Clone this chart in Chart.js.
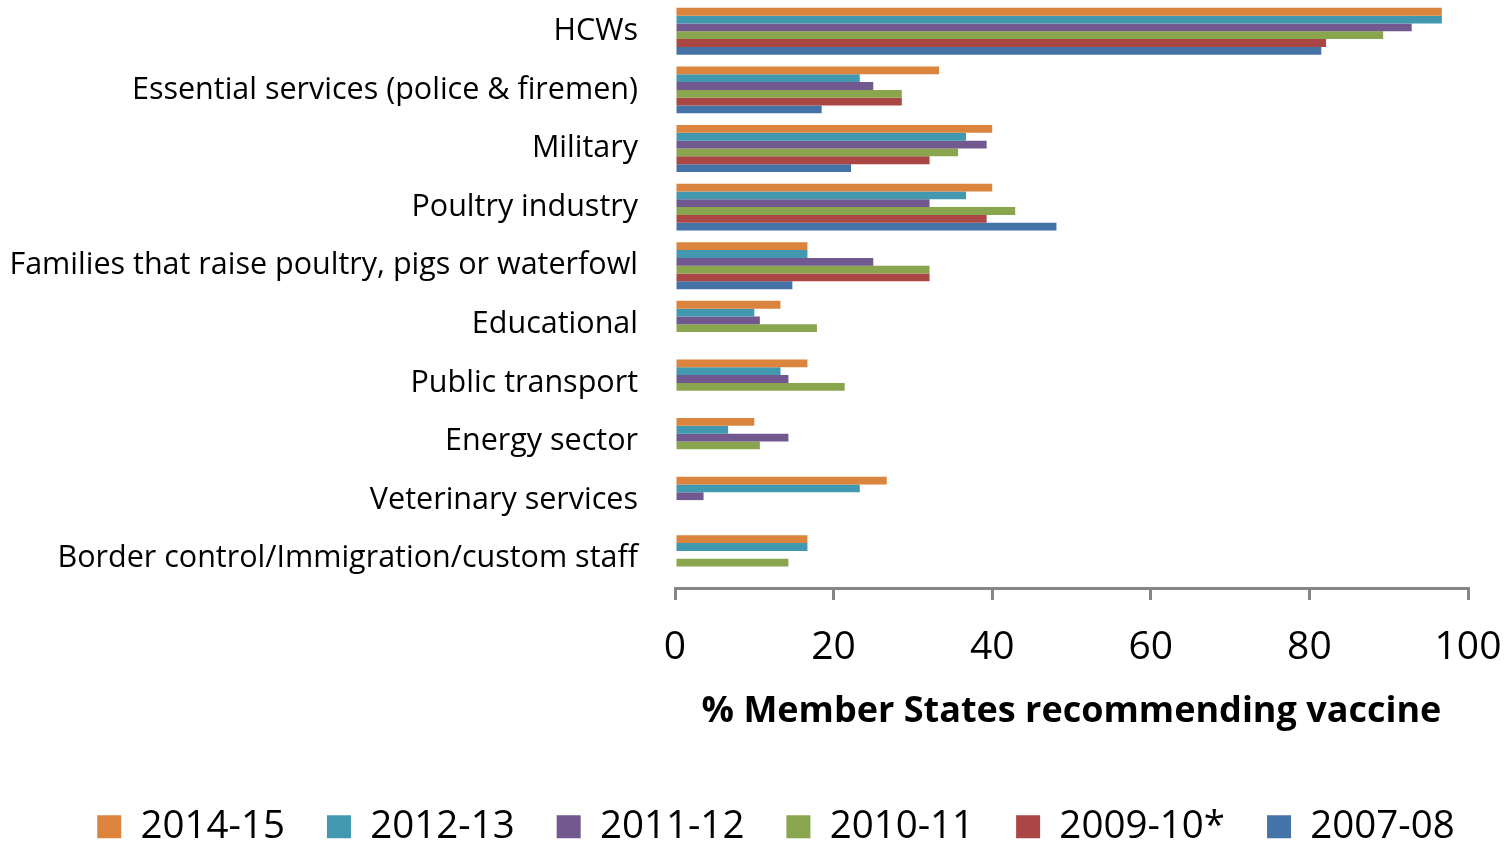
<!DOCTYPE html>
<html>
<head>
<meta charset="utf-8">
<script src="https://cdn.jsdelivr.net/npm/chart.js@4"></script>
<style>
  html, body { margin: 0; padding: 0; overflow: hidden; background: #fff; }
  #wrap { width: 1512px; height: 856px; position: relative; }
</style>
</head>
<body>
<div id="wrap"><canvas id="grafico"></canvas></div>
<script>
// categorias (de cima para baixo)
const categorias = [
  'HCWs',
  'Essential services (police & firemen)',
  'Military',
  'Poultry industry',
  'Families that raise poultry, pigs or waterfowl',
  'Educational',
  'Public transport',
  'Energy sector',
  'Veterinary services',
  'Border control/Immigration/custom staff'
];

// temporadas, na ordem da legenda
const temporadas = ['2014-15', '2012-13', '2011-12', '2010-11', '2009-10*', '2007-08'];
const cores = ['#DB843D', '#4198AF', '#71588F', '#89A54E', '#AA4643', '#4572A7'];

// % de estados membros que recomendam a vacina
const v2014_15 = [96.7, 33.3, 40.0, 40.0, 16.7, 13.3, 16.7, 10.0, 26.7, 16.7];
const v2012_13 = [96.7, 23.3, 36.7, 36.7, 16.7, 10.0, 13.3, 6.7, 23.3, 16.7];
const v2011_12 = [92.9, 25.0, 39.3, 32.1, 25.0, 10.7, 14.3, 14.3, 3.6, null];
const v2010_11 = [89.3, 28.6, 35.7, 42.9, 32.1, 17.9, 21.4, 10.7, null, 14.3];
const v2009_10 = [82.1, 28.6, 32.1, 39.3, 32.1, null, null, null, null, null];
const v2007_08 = [81.5, 18.5, 22.2, 48.1, 14.8, null, null, null, null, null];

const valores = [v2014_15, v2012_13, v2011_12, v2010_11, v2009_10, v2007_08];

const ticksX = [0, 20, 40, 60, 80, 100];

Chart.defaults.font.family = "'Open Sans', sans-serif";
Chart.defaults.color = '#000';

// empurra a legenda um pouco para a direita, como no original
const empurraLegenda = {
  id: 'empurraLegenda',
  afterLayout(chart) {
    if (chart.legend) {
      chart.legend.left += 42;
      chart.legend.right += 42;
    }
  }
};

const ctx = document.getElementById('grafico').getContext('2d');
new Chart(ctx, {
  type: 'bar',
  data: {
    labels: categorias,
    datasets: temporadas.map((t, i) => ({
      label: t,
      data: valores[i],
      backgroundColor: cores[i],
      borderWidth: 0,
      categoryPercentage: 0.8,
      barPercentage: 1.0
    }))
  },
  plugins: [empurraLegenda],
  options: {
    indexAxis: 'y',
    responsive: true,
    maintainAspectRatio: false,
    animation: false,
    layout: { padding: { top: 2, right: 44, left: 0, bottom: 0 } },
    plugins: {
      tooltip: { enabled: false },
      legend: {
        position: 'bottom',
        labels: {
          boxWidth: 24,
          boxHeight: 23,
          padding: 42,
          color: '#000',
          font: { size: 38.5 }
        }
      }
    },
    scales: {
      x: {
        min: 0,
        max: 100,
        afterBuildTicks: s => { s.ticks = ticksX.map(v => ({ value: v })); },
        ticks: { color: '#000', font: { size: 39 }, padding: 24 },
        grid: { drawOnChartArea: false, drawTicks: true, tickLength: 12, color: '#868686', lineWidth: 3 },
        border: { color: '#868686', width: 3 },
        title: {
          display: true,
          text: '% Member States recommending vaccine',
          color: '#000',
          font: { size: 36, weight: 'bold' },
          padding: { top: 32, bottom: 32 }
        },
        afterFit: s => {
          s.height = 177.5;
          s.paddingRight = 44;
        }
      },
      y: {
        grid: { display: false, drawTicks: false },
        border: { display: false },
        ticks: { color: '#000', font: { size: 30.5 }, padding: 37 },
        afterFit: s => {
          s.width = 675;
          // os rótulos não devem empurrar a área do gráfico
          s.paddingTop = 0;
          s.paddingBottom = 0;
        }
      }
    }
  }
});
</script>
</body>
</html>
